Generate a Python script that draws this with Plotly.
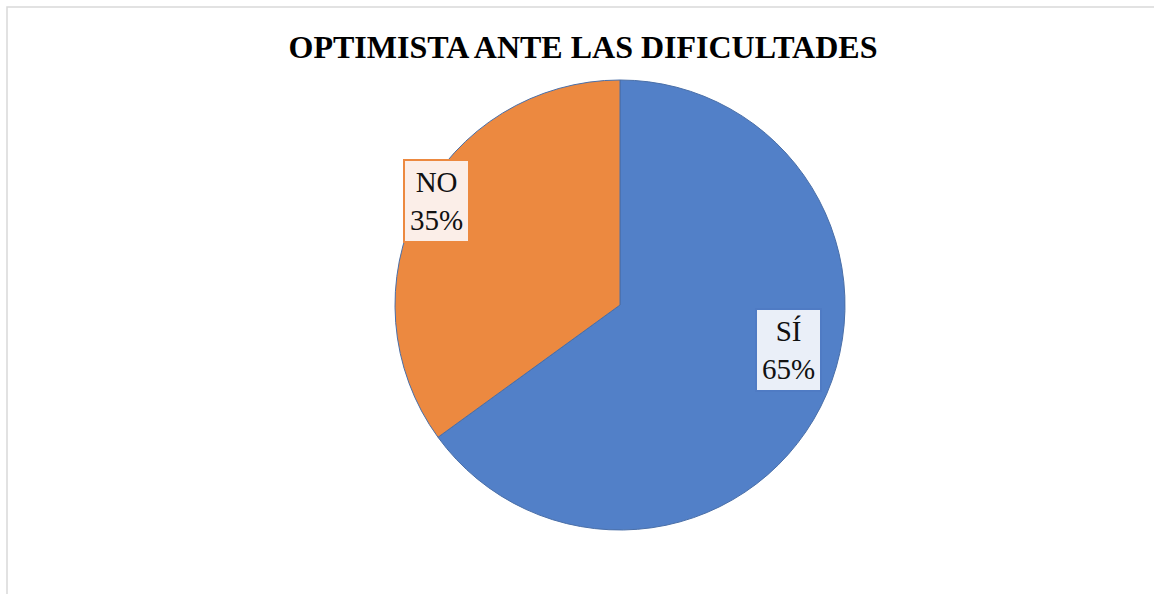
import plotly.graph_objects as go

labels = ["SÍ", "NO"]
values = [65, 35]
colors = ["#5280C8", "#EC8940"]
label_bg = ["#EAEFF8", "#FBEEE8"]
label_border = ["#4F7BC4", "#EC8940"]

W, H = 1154, 594
cx, cy, r = 620, 305, 225

fig = go.Figure()
fig.add_trace(go.Pie(
    labels=labels, values=values, sort=False, direction="clockwise", rotation=0,
    marker=dict(colors=colors, line=dict(color="#4A6FA8", width=1)),
    textinfo="none", hoverinfo="label+percent", showlegend=False,
    domain=dict(x=[(cx - r) / W, (cx + r) / W], y=[1 - (cy + r) / H, 1 - (cy - r) / H]),
))

# label boxes
pos = [(822, 350), (436, 201)]
for lab, v, bg, bc, (px, py) in zip(labels, values, label_bg, label_border, pos):
    fig.add_annotation(
        x=px / W, y=1 - py / H, xref="paper", yref="paper",
        text=f"{lab}<br>{v}%", showarrow=False,
        font=dict(family="Liberation Serif, Times New Roman, serif", size=29, color="#111"),
        bgcolor=bg, bordercolor=bc, borderwidth=2, borderpad=5, align="center",
    )

fig.add_shape(type="rect", xref="paper", yref="paper",
              x0=7 / W, y0=-0.05, x1=1.05, y1=1 - 7 / H,
              line=dict(color="#D9D9D9", width=1.5))

fig.update_layout(
    width=W, height=H,
    margin=dict(l=0, r=0, t=0, b=0),
    paper_bgcolor="white", plot_bgcolor="white",
    title=dict(text="<b>OPTIMISTA ANTE LAS DIFICULTADES</b>", x=583 / W, xanchor="center",
               y=1 - 47 / H, yanchor="middle",
               font=dict(family="Liberation Serif, Times New Roman, serif", size=32, color="black")),
)

fig.write_html("out.html", config={"displayModeBar": False},
               post_script="document.body.style.margin='0';document.body.style.overflow='hidden';")
